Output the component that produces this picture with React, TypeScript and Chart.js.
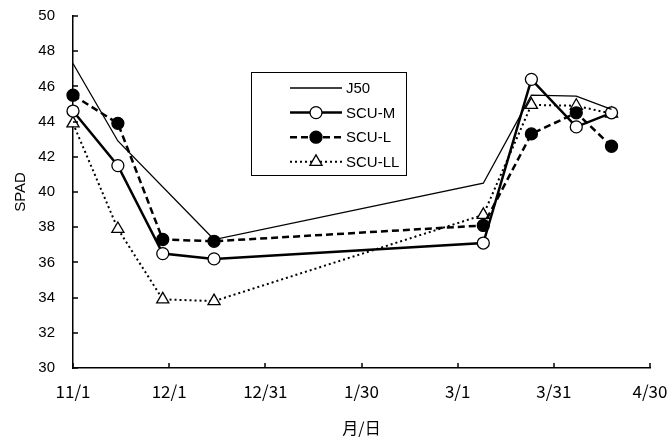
import { useEffect, useRef } from 'react';
import { Chart, registerables } from 'chart.js';

Chart.register(...registerables);

// Sampling dates (month/day) of the season, Nov to Apr
const sampleDates = ['11/1', '11/15', '11/29', '12/15', '3/9', '3/24', '4/7', '4/18'];

// SPAD readings per treatment
const j50 = [47.3, 42.9, null, 37.3, 40.5, 45.5, 45.45, 44.7];
const scuM = [44.6, 41.5, 36.5, 36.2, 37.1, 46.4, 43.7, 44.5];
const scuL = [45.5, 43.9, 37.3, 37.2, 38.1, 43.3, 44.5, 42.6];
const scuLL = [43.9, 37.9, 33.9, 33.8, 38.7, 44.95, 44.9, 44.45];

const seriesNames = ['J50', 'SCU-M', 'SCU-L', 'SCU-LL'];

// Axis tick labels
const xTickLabels = ['11/1', '12/1', '12/31', '1/30', '3/1', '3/31', '4/30'];
const yMin = 30;
const yMax = 50;
const yStep = 2;

const xTitle = '月/日';
const yTitle = 'SPAD';

// Day counts from 11/1 across a non-leap winter
const monthOrder = [11, 12, 1, 2, 3, 4];
const monthDays = [30, 31, 31, 28, 31, 30];
function dayOffset(md: string): number {
  const [m, d] = md.split('/').map(Number);
  let total = 0;
  for (let i = 0; i < monthOrder.length; i++) {
    if (monthOrder[i] === m) return total + d - 1;
    total += monthDays[i];
  }
  return total;
}

const toPoints = (vals: (number | null)[]) =>
  sampleDates.map((md, i) => ({ x: dayOffset(md), y: vals[i] }));

const SANS = '"Liberation Sans", Arial, sans-serif';
const GOTHIC = '"Noto Sans CJK JP", sans-serif';

function drawMarker(
  ctx: CanvasRenderingContext2D,
  style: string,
  x: number,
  y: number,
  r: number,
  fill: string,
  stroke: string,
  lw: number
) {
  ctx.beginPath();
  if (style === 'triangle') {
    let a = 0;
    ctx.moveTo(x + Math.sin(a) * r, y - Math.cos(a) * r);
    a += (2 * Math.PI) / 3;
    ctx.lineTo(x + Math.sin(a) * r, y - Math.cos(a) * r);
    a += (2 * Math.PI) / 3;
    ctx.lineTo(x + Math.sin(a) * r, y - Math.cos(a) * r);
    ctx.closePath();
  } else {
    ctx.arc(x, y, r, 0, Math.PI * 2);
  }
  ctx.fillStyle = fill;
  ctx.fill();
  ctx.lineWidth = lw;
  ctx.strokeStyle = stroke;
  ctx.setLineDash([]);
  ctx.stroke();
}

// Short inward tick marks on both axes
const innerTicks = {
  id: 'innerTicks',
  afterDraw(chart: any) {
    const { ctx, chartArea, scales } = chart;
    ctx.save();
    ctx.strokeStyle = '#000';
    ctx.lineWidth = 1.5;
    ctx.setLineDash([]);
    scales.y.ticks.forEach((t: any) => {
      const py = Math.round(scales.y.getPixelForValue(t.value));
      ctx.beginPath();
      ctx.moveTo(chartArea.left, py);
      ctx.lineTo(chartArea.left + 5, py);
      ctx.stroke();
    });
    scales.x.ticks.forEach((t: any) => {
      const px = Math.round(scales.x.getPixelForValue(t.value));
      ctx.beginPath();
      ctx.moveTo(px, chartArea.bottom);
      ctx.lineTo(px, chartArea.bottom - 5);
      ctx.stroke();
    });
    ctx.restore();
  },
};

// Boxed legend inside the plot area
const insetLegend = {
  id: 'insetLegend',
  afterDraw(chart: any) {
    const ctx: CanvasRenderingContext2D = chart.ctx;
    const box = { left: 251, top: 72, right: 406, bottom: 175 };
    ctx.save();
    ctx.fillStyle = '#fff';
    ctx.fillRect(box.left, box.top, box.right - box.left, box.bottom - box.top);
    ctx.strokeStyle = '#000';
    ctx.lineWidth = 1;
    ctx.setLineDash([]);
    ctx.strokeRect(box.left + 0.5, box.top + 0.5, box.right - box.left, box.bottom - box.top);
    chart.data.datasets.forEach((ds: any, i: number) => {
      const y = 88 + i * 24.6;
      ctx.beginPath();
      ctx.setLineDash(ds.borderDash || []);
      ctx.lineWidth = ds.borderWidth;
      ctx.strokeStyle = ds.borderColor;
      ctx.moveTo(290, y);
      ctx.lineTo(342, y);
      ctx.stroke();
      if (ds.pointRadius > 0) {
        drawMarker(ctx, ds.pointStyle, 316, y, ds.pointRadius, ds.pointBackgroundColor, ds.pointBorderColor, ds.pointBorderWidth);
      }
      ctx.fillStyle = '#000';
      ctx.font = `15px ${SANS}`;
      ctx.textAlign = 'left';
      ctx.textBaseline = 'middle';
      ctx.fillText(ds.label, 346, y + 1);
    });
    ctx.restore();
  },
};

export default function App() {
  const canvasRef = useRef<HTMLCanvasElement | null>(null);

  useEffect(() => {
    document.body.style.margin = '0';
    const canvas = canvasRef.current;
    if (!canvas) return;

    const chart = new Chart(canvas, {
      type: 'line',
      data: {
        datasets: [
          {
            label: seriesNames[0],
            data: toPoints(j50),
            borderColor: '#000',
            borderWidth: 1.3,
            pointRadius: 0,
            pointStyle: 'circle',
            spanGaps: true,
            clip: false,
          },
          {
            label: seriesNames[1],
            data: toPoints(scuM),
            borderColor: '#000',
            borderWidth: 2.5,
            pointRadius: 6,
            pointStyle: 'circle',
            pointBackgroundColor: '#fff',
            pointBorderColor: '#000',
            pointBorderWidth: 1.3,
            clip: false,
          },
          {
            label: seriesNames[2],
            data: toPoints(scuL),
            borderColor: '#000',
            borderWidth: 2.5,
            borderDash: [7, 4],
            pointRadius: 6,
            pointStyle: 'circle',
            pointBackgroundColor: '#000',
            pointBorderColor: '#000',
            pointBorderWidth: 1.3,
            clip: false,
          },
          {
            label: seriesNames[3],
            data: toPoints(scuLL),
            borderColor: '#000',
            borderWidth: 2,
            borderDash: [2, 3],
            pointRadius: 7,
            pointStyle: 'triangle',
            pointBackgroundColor: '#fff',
            pointBorderColor: '#000',
            pointBorderWidth: 1.3,
            clip: false,
          },
        ] as any,
      },
      options: {
        animation: false,
        responsive: false,
        devicePixelRatio: 1,
        layout: { padding: { top: 16, right: 19, left: 0, bottom: 0 } },
        plugins: {
          legend: { display: false },
          tooltip: { enabled: false },
        },
        elements: { line: { tension: 0 } },
        scales: {
          x: {
            type: 'linear',
            min: dayOffset(xTickLabels[0]),
            max: dayOffset(xTickLabels[xTickLabels.length - 1]),
            afterBuildTicks: (scale: any) => {
              scale.ticks = xTickLabels.map((l) => ({ value: dayOffset(l) }));
            },
            afterFit: (scale: any) => {
              scale.height = 75;
              scale.paddingLeft = 0;
              scale.paddingRight = 0;
            },
            grid: { display: false, drawTicks: false },
            border: { display: true, color: '#000', width: 1.5 },
            ticks: {
              autoSkip: false,
              maxRotation: 0,
              padding: 13,
              color: '#000',
              font: { family: GOTHIC, size: 17 },
              callback: (_v: any, i: number) => xTickLabels[i],
            },
            title: {
              display: true,
              text: xTitle,
              color: '#000',
              font: { family: GOTHIC, size: 16 },
              padding: { top: 0, bottom: 5 },
            },
          },
          y: {
            type: 'linear',
            min: yMin,
            max: yMax,
            afterFit: (scale: any) => {
              scale.width = 73;
              scale.paddingTop = 0;
              scale.paddingBottom = 0;
            },
            grid: { display: false, drawTicks: false },
            border: { display: true, color: '#000', width: 1.5 },
            ticks: {
              stepSize: yStep,
              padding: 18,
              color: '#000',
              font: { family: SANS, size: 15 },
            },
            title: {
              display: true,
              text: yTitle,
              color: '#000',
              font: { family: SANS, size: 15 },
              padding: { top: 12, bottom: 0 },
            },
          },
        },
      } as any,
      plugins: [innerTicks, insetLegend],
    });

    return () => chart.destroy();
  }, []);

  return (
    <div style={{ position: 'fixed', left: 0, top: 0, width: 669, height: 443, background: '#fff' }}>
      <canvas ref={canvasRef} width={669} height={443} style={{ display: 'block' }} />
    </div>
  );
}
